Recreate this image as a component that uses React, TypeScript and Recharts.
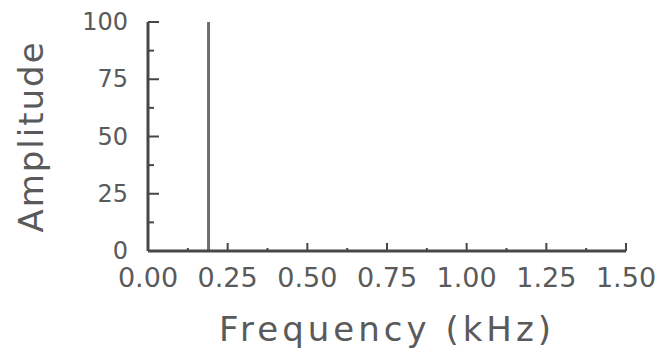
import React from 'react';
import { LineChart, Line, XAxis, YAxis, Label } from 'recharts';

// spectrum: a single spike
const frequencies = [0.19];
const amplitudes = [100];

const xTicks = [0, 0.125, 0.25, 0.375, 0.5, 0.625, 0.75, 0.875, 1, 1.125, 1.25, 1.375, 1.5];
const yTicks = [0, 12.5, 25, 37.5, 50, 62.5, 75, 87.5, 100];

// each spike is drawn as a segment from 0 up to its amplitude
const spikeData = frequencies.flatMap((f, i) => [
  { freq: f, amp: 0 },
  { freq: f, amp: amplitudes[i] },
]);

const AXIS = '#474747';
const TEXT = '#5a5a5a';
const FONT = '"DejaVu Sans", sans-serif';

const XTick = (props: any) => {
  const { x, y, payload } = props;
  const v = payload.value as number;
  const major = Math.abs(v * 4 - Math.round(v * 4)) < 1e-6;
  return (
    <g>
      <line x1={x} x2={x} y1={y} y2={y - (major ? 8 : 3)} stroke={AXIS} strokeWidth={2} />
      {major && (
        <text x={x} y={y + 36} textAnchor="middle" fontSize={27} fill={TEXT} fontFamily={FONT}>
          {v.toFixed(2)}
        </text>
      )}
    </g>
  );
};

const YTick = (props: any) => {
  const { x, y, payload } = props;
  const v = payload.value as number;
  const major = v % 25 === 0;
  return (
    <g>
      <line x1={x} x2={x + (major ? 11 : 6)} y1={y} y2={y} stroke={AXIS} strokeWidth={2} />
      {major && (
        <text x={x - 20} y={y + 8} textAnchor="end" fontSize={24} fill={TEXT} fontFamily={FONT}>
          {v}
        </text>
      )}
    </g>
  );
};

export default function App() {
  return (
    <div style={{ position: 'absolute', left: 0, top: 0, background: '#fff' }}>
      <LineChart
        width={660}
        height={354}
        data={spikeData}
        margin={{ top: 22, right: 34, bottom: 43, left: 0 }}
      >
        <XAxis
          dataKey="freq"
          type="number"
          domain={[0, 1.5]}
          ticks={xTicks}
          interval={0}
          height={60}
          tickSize={0}
          tickMargin={0}
          tickLine={false}
          tick={<XTick />}
          axisLine={{ stroke: AXIS, strokeWidth: 3 }}
        >
          <Label
            value="Frequency (kHz)"
            position="insideBottom"
            offset={-30}
            style={{ fontSize: 34, fill: TEXT, fontFamily: FONT, letterSpacing: 4 }}
          />
        </XAxis>
        <YAxis
          dataKey="amp"
          type="number"
          domain={[0, 100]}
          ticks={yTicks}
          interval={0}
          width={148}
          tickSize={0}
          tickMargin={0}
          tickLine={false}
          tick={<YTick />}
          axisLine={{ stroke: AXIS, strokeWidth: 3 }}
        >
          <Label
            value="Amplitude"
            angle={-90}
            position="insideLeft"
            offset={31}
            style={{ fontSize: 34, fill: TEXT, fontFamily: FONT, letterSpacing: 2, textAnchor: 'middle' }}
          />
        </YAxis>
        <Line
          dataKey="amp"
          stroke="#6e6e6e"
          strokeWidth={3}
          dot={false}
          isAnimationActive={false}
        />
      </LineChart>
    </div>
  );
}
